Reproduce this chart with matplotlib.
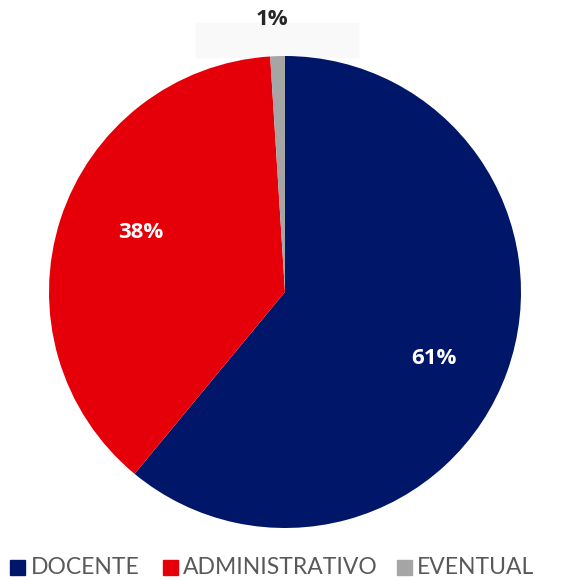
import matplotlib.pyplot as plt
from matplotlib.patches import Rectangle

labels = ['DOCENTE', 'ADMINISTRATIVO', 'EVENTUAL']
values = [61, 38, 1]
pct_labels = ['61%', '38%', '1%']
colors = ['#001668', '#E50009', '#A5A5A5']

plt.rcParams['font.family'] = ['Lato', 'DejaVu Sans']

W, H = 564, 580
fig = plt.figure(figsize=(W/100, H/100), dpi=100)
fig.patch.set_facecolor('white')

# faint box behind the small label at the top
fig.patches.append(Rectangle((196/W, 1-57/H), 162/W, 34/H,
                             transform=fig.transFigure, color='#F9F9F9', zorder=-1))

ax = fig.add_axes([49/W, 52/H, 472/W, 472/H])
ax.patch.set_alpha(0)
wedges, _ = ax.pie(values, colors=colors, startangle=90, counterclock=False,
                   radius=1, wedgeprops=dict(linewidth=0))
ax.set_xlim(-1, 1)
ax.set_ylim(-1, 1)
ax.set_aspect('equal')
ax.axis('off')

lab_pos = [(0.63, -0.28), (-0.61, 0.25), (-0.055, 1.155)]
lab_col = ['white', 'white', '#262626']
for t, (x, y), c in zip(pct_labels, lab_pos, lab_col):
    ax.text(x, y, t, ha='center', va='center', fontsize=16, fontweight='bold',
            color=c, clip_on=False, family=['Open Sans', 'DejaVu Sans'], zorder=5)

# legend along the bottom
sq_x = [10, 163, 397]
txt_x = [31, 183, 417]
for lab, c, sx, tx in zip(labels, colors, sq_x, txt_x):
    fig.patches.append(Rectangle((sx/W, 1-575/H), 15/W, 15/H,
                                 transform=fig.transFigure, color=c))
    fig.text(tx/W, 1-567/H, lab, ha='left', va='center', fontsize=16.5,
             color='#595959')

fig.savefig('out.png', dpi=100, facecolor='white')
